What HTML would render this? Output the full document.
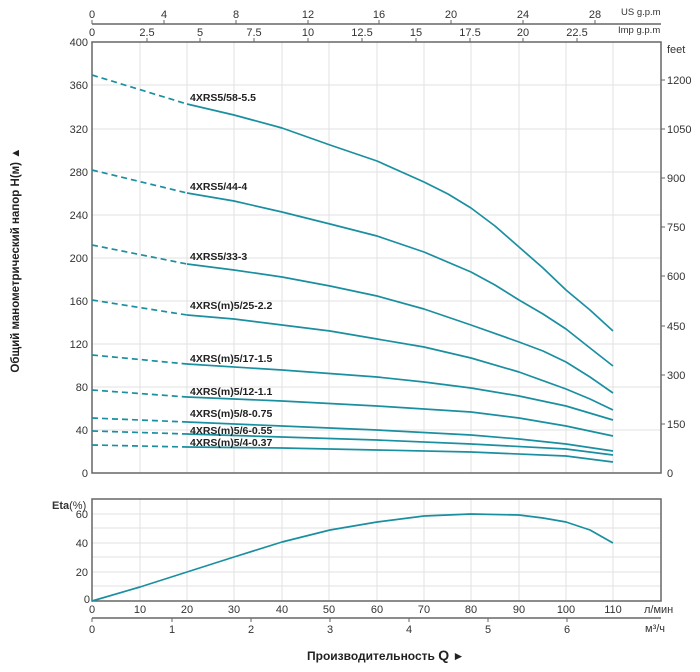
<!DOCTYPE html>
<html><head><meta charset="utf-8"><style>
body{margin:0;background:#fff}
svg{display:block;font-family:"Liberation Sans",Arial,sans-serif}
</style></head><body>
<svg width="700" height="672" viewBox="0 0 700 672" xmlns="http://www.w3.org/2000/svg">
<g stroke="#e2e2e2" stroke-width="1">
<line x1="140" y1="42" x2="140" y2="473"/><line x1="187" y1="42" x2="187" y2="473"/><line x1="234" y1="42" x2="234" y2="473"/><line x1="282" y1="42" x2="282" y2="473"/><line x1="329" y1="42" x2="329" y2="473"/><line x1="377" y1="42" x2="377" y2="473"/><line x1="424" y1="42" x2="424" y2="473"/><line x1="471" y1="42" x2="471" y2="473"/><line x1="519" y1="42" x2="519" y2="473"/><line x1="566" y1="42" x2="566" y2="473"/><line x1="613" y1="42" x2="613" y2="473"/>
<line x1="92" y1="85" x2="661" y2="85"/><line x1="92" y1="129" x2="661" y2="129"/><line x1="92" y1="172" x2="661" y2="172"/><line x1="92" y1="215" x2="661" y2="215"/><line x1="92" y1="258" x2="661" y2="258"/><line x1="92" y1="301" x2="661" y2="301"/><line x1="92" y1="344" x2="661" y2="344"/><line x1="92" y1="387" x2="661" y2="387"/><line x1="92" y1="430" x2="661" y2="430"/>
<line x1="140" y1="499" x2="140" y2="601"/><line x1="187" y1="499" x2="187" y2="601"/><line x1="234" y1="499" x2="234" y2="601"/><line x1="282" y1="499" x2="282" y2="601"/><line x1="329" y1="499" x2="329" y2="601"/><line x1="377" y1="499" x2="377" y2="601"/><line x1="424" y1="499" x2="424" y2="601"/><line x1="471" y1="499" x2="471" y2="601"/><line x1="519" y1="499" x2="519" y2="601"/><line x1="566" y1="499" x2="566" y2="601"/><line x1="613" y1="499" x2="613" y2="601"/>
<line x1="92" y1="514" x2="661" y2="514"/><line x1="92" y1="528" x2="661" y2="528"/><line x1="92" y1="543" x2="661" y2="543"/><line x1="92" y1="557" x2="661" y2="557"/><line x1="92" y1="572" x2="661" y2="572"/><line x1="92" y1="586" x2="661" y2="586"/>
</g>
<g fill="none" stroke="#666" stroke-width="1.5">
<rect x="92" y="42" width="569" height="431"/>
<rect x="92" y="499" width="569" height="102"/>
<line x1="92" y1="24" x2="661" y2="24"/>
<line x1="92" y1="618" x2="661" y2="618"/>
</g>
<g stroke="#666" stroke-width="1">
<line x1="92" y1="20" x2="92" y2="24"/><line x1="164" y1="20" x2="164" y2="24"/><line x1="236" y1="20" x2="236" y2="24"/><line x1="308" y1="20" x2="308" y2="24"/><line x1="379" y1="20" x2="379" y2="24"/><line x1="451" y1="20" x2="451" y2="24"/><line x1="523" y1="20" x2="523" y2="24"/><line x1="595" y1="20" x2="595" y2="24"/>
<line x1="147" y1="38" x2="147" y2="42"/><line x1="200" y1="38" x2="200" y2="42"/><line x1="254" y1="38" x2="254" y2="42"/><line x1="308" y1="38" x2="308" y2="42"/><line x1="362" y1="38" x2="362" y2="42"/><line x1="416" y1="38" x2="416" y2="42"/><line x1="470" y1="38" x2="470" y2="42"/><line x1="523" y1="38" x2="523" y2="42"/><line x1="577" y1="38" x2="577" y2="42"/>
<line x1="92" y1="618" x2="92" y2="622"/><line x1="172" y1="618" x2="172" y2="622"/><line x1="251" y1="618" x2="251" y2="622"/><line x1="330" y1="618" x2="330" y2="622"/><line x1="409" y1="618" x2="409" y2="622"/><line x1="488" y1="618" x2="488" y2="622"/><line x1="567" y1="618" x2="567" y2="622"/>
<line x1="661" y1="80" x2="665" y2="80"/><line x1="661" y1="129" x2="665" y2="129"/><line x1="661" y1="178" x2="665" y2="178"/><line x1="661" y1="227" x2="665" y2="227"/><line x1="661" y1="276" x2="665" y2="276"/><line x1="661" y1="326" x2="665" y2="326"/><line x1="661" y1="375" x2="665" y2="375"/><line x1="661" y1="424" x2="665" y2="424"/>
</g>
<g font-size="11" fill="#333" text-anchor="middle">
<text x="92" y="18">0</text><text x="164" y="18">4</text><text x="236" y="18">8</text><text x="308" y="18">12</text><text x="379" y="18">16</text><text x="451" y="18">20</text><text x="523" y="18">24</text><text x="595" y="18">28</text>
<text x="92" y="36">0</text><text x="147" y="36">2.5</text><text x="200" y="36">5</text><text x="254" y="36">7.5</text><text x="308" y="36">10</text><text x="362" y="36">12.5</text><text x="416" y="36">15</text><text x="470" y="36">17.5</text><text x="523" y="36">20</text><text x="577" y="36">22.5</text>
<text x="92" y="613">0</text><text x="140" y="613">10</text><text x="187" y="613">20</text><text x="234" y="613">30</text><text x="282" y="613">40</text><text x="329" y="613">50</text><text x="377" y="613">60</text><text x="424" y="613">70</text><text x="471" y="613">80</text><text x="519" y="613">90</text><text x="566" y="613">100</text><text x="613" y="613">110</text>
<text x="92" y="633">0</text><text x="172" y="633">1</text><text x="251" y="633">2</text><text x="330" y="633">3</text><text x="409" y="633">4</text><text x="488" y="633">5</text><text x="567" y="633">6</text>
</g>
<g font-size="11" fill="#333" text-anchor="end">
<text x="88" y="46">400</text><text x="88" y="89">360</text><text x="88" y="133">320</text><text x="88" y="176">280</text><text x="88" y="219">240</text><text x="88" y="262">200</text><text x="88" y="305">160</text><text x="88" y="348">120</text><text x="88" y="391">80</text><text x="88" y="434">40</text><text x="88" y="477">0</text>
<text x="88" y="518">60</text><text x="88" y="547">40</text><text x="88" y="576">20</text><text x="90" y="603">0</text>
</g>
<g font-size="11" fill="#333">
<text x="667" y="84">1200</text><text x="667" y="133">1050</text><text x="667" y="182">900</text><text x="667" y="231">750</text><text x="667" y="280">600</text><text x="667" y="330">450</text><text x="667" y="379">300</text><text x="667" y="428">150</text><text x="667" y="477">0</text>
<text x="667" y="53">feet</text>
<text x="621" y="15" font-size="9.5">US g.p.m</text>
<text x="618" y="33" font-size="9.5">Imp g.p.m</text>
<text x="644" y="613">л/мин</text>
<text x="645" y="632">м³/ч</text>
<text x="52" y="509" font-weight="bold">Eta<tspan font-weight="normal">(%)</tspan></text>
</g>
<g fill="none" stroke="#1a8fa0" stroke-width="1.7" stroke-linejoin="round">
<g stroke-dasharray="6,4">
<line x1="92" y1="75" x2="187" y2="104"/><line x1="92" y1="170" x2="187" y2="193"/><line x1="92" y1="245" x2="187" y2="264"/><line x1="92" y1="300" x2="187" y2="315"/><line x1="92" y1="355" x2="187" y2="364"/><line x1="92" y1="390" x2="187" y2="397"/><line x1="92" y1="418" x2="187" y2="422"/><line x1="92" y1="431" x2="187" y2="434"/><line x1="92" y1="445" x2="187" y2="447"/>
</g>
<polyline points="187,104 234,115 282,128 330,145 377,161 424,182 448,194 471,208 495,226 519,247 543,268 566,290 590,310 613,331"/>
<polyline points="187,193 234,201 282,212 330,224 377,236 424,252 471,272 495,285 519,300 543,314 566,329 590,348 613,366"/>
<polyline points="187,264 234,270 282,277 330,286 377,296 424,309 471,325 519,342 543,351 566,362 590,377 613,393"/>
<polyline points="187,315 234,319 282,325 330,331 377,339 424,347 471,358 519,372 566,389 590,399 613,410"/>
<polyline points="187,364 282,370 377,377 424,382 471,388 519,396 566,406 613,420"/>
<polyline points="187,397 282,401 377,406 471,412 519,418 566,426 613,436"/>
<polyline points="187,422 282,426 377,430 471,435 519,439 566,444 613,451"/>
<polyline points="187,434 282,437 377,440 471,444 566,449 613,455"/>
<polyline points="187,447 282,448 377,450 471,452 566,456 613,462"/>
<polyline points="92,601 140,587 187,572 234,557 282,542 330,530 377,522 424,516 471,514 519,515 543,518 566,522 590,530 613,543"/>
</g>
<g font-size="10.5" font-weight="bold" fill="#222">
<text x="190" y="101">4XRS5/58-5.5</text>
<text x="190" y="190">4XRS5/44-4</text>
<text x="190" y="260">4XRS5/33-3</text>
<text x="190" y="309">4XRS(m)5/25-2.2</text>
<text x="190" y="362">4XRS(m)5/17-1.5</text>
<text x="190" y="395">4XRS(m)5/12-1.1</text>
<text x="190" y="417">4XRS(m)5/8-0.75</text>
<text x="190" y="434">4XRS(m)5/6-0.55</text>
<text x="190" y="446">4XRS(m)5/4-0.37</text>
</g>
<text transform="translate(19,260) rotate(-90)" text-anchor="middle" font-size="11.5" font-weight="bold" fill="#222">Общий манометрический напор H(м)  ▲</text>
<text x="307" y="660" font-size="12" font-weight="bold" fill="#222">Производительность <tspan font-size="14">Q</tspan>   ►</text>
</svg>
</body></html>
